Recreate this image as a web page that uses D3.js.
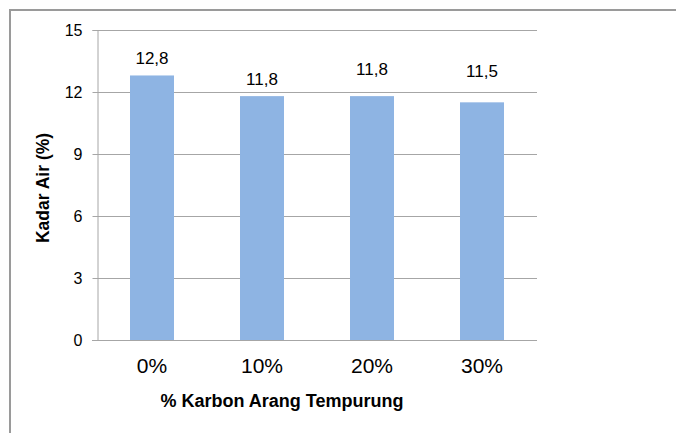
<!DOCTYPE html>
<html>
<head>
<meta charset="utf-8">
<script src="https://cdn.jsdelivr.net/npm/d3@7"></script>
<style>
  html, body { margin: 0; padding: 0; background: #fff; }
  svg { display: block; font-family: "Liberation Sans", Arial, sans-serif; }
</style>
</head>
<body>
<svg id="chart" width="676" height="433"></svg>
<script>
// Kadar air per persentase karbon arang tempurung
const categories = ["0%", "10%", "20%", "30%"];
const values = [12.8, 11.8, 11.8, 11.5];
const valueLabels = ["12,8", "11,8", "11,8", "11,5"];
const yTicks = [0, 3, 6, 9, 12, 15];

const svg = d3.select("#chart");
const margin = { left: 97, right: 139, top: 30, bottom: 93 };
const W = 676, H = 433;
const FONT = "'Liberation Sans', Arial, sans-serif";

// outer frame (top and left edges)
svg.append("path")
  .attr("d", `M10,${H} L10,10 L${W},10`)
  .attr("fill", "none")
  .attr("stroke", "#9a9a9a")
  .attr("stroke-width", 2);

const x = d3.scaleBand()
  .domain(categories)
  .range([margin.left, W - margin.right])
  .paddingInner(0.6)
  .paddingOuter(0.3);

const y = d3.scaleLinear()
  .domain([0, 15])
  .range([H - margin.bottom, margin.top]);

// horizontal gridlines
svg.append("g")
  .selectAll("line")
  .data(yTicks.filter(d => d > 0))
  .join("line")
  .attr("x1", margin.left).attr("x2", W - margin.right)
  .attr("y1", d => y(d) + 0.5).attr("y2", d => y(d) + 0.5)
  .attr("stroke", "#a6a6a6").attr("stroke-width", 1);

// y axis
const yAxis = svg.append("g")
  .attr("transform", `translate(${margin.left + 0.5},0)`)
  .call(d3.axisLeft(y).tickValues(yTicks).tickSize(5).tickPadding(10).tickFormat(d3.format("d")))
  .attr("font-family", FONT)
  .attr("font-size", 16);
yAxis.select(".domain").attr("stroke", "#a6a6a6");
yAxis.selectAll(".tick line").attr("stroke", "#a6a6a6");
yAxis.selectAll(".tick text").attr("fill", "#000");

// bars
svg.append("g")
  .selectAll("rect")
  .data(values)
  .join("rect")
  .attr("x", (d, i) => x(categories[i]))
  .attr("y", d => y(d))
  .attr("width", x.bandwidth())
  .attr("height", d => y(0) - y(d))
  .attr("fill", "#8eb4e3");

// x axis baseline
svg.append("line")
  .attr("x1", margin.left - 5).attr("x2", W - margin.right)
  .attr("y1", y(0) + 0.5).attr("y2", y(0) + 0.5)
  .attr("stroke", "#a6a6a6").attr("stroke-width", 1);

// category labels
svg.append("g")
  .selectAll("text")
  .data(categories)
  .join("text")
  .attr("x", d => x(d) + x.bandwidth() / 2)
  .attr("y", y(0) + 33)
  .attr("text-anchor", "middle")
  .attr("font-family", FONT)
  .attr("font-size", 21)
  .attr("fill", "#000")
  .text(d => d);

// value labels above bars
const labelLift = [11, 11, 21, 25];
svg.append("g")
  .selectAll("text")
  .data(values)
  .join("text")
  .attr("x", (d, i) => x(categories[i]) + x.bandwidth() / 2)
  .attr("y", (d, i) => y(d) - labelLift[i])
  .attr("text-anchor", "middle")
  .attr("font-family", FONT)
  .attr("font-size", 17)
  .attr("fill", "#000")
  .text((d, i) => valueLabels[i]);

// axis titles
svg.append("text")
  .attr("x", 282)
  .attr("y", 407)
  .attr("text-anchor", "middle")
  .attr("font-family", FONT)
  .attr("font-size", 18)
  .attr("font-weight", "bold")
  .attr("fill", "#000")
  .text("% Karbon Arang Tempurung");

svg.append("text")
  .attr("transform", "translate(49,188) rotate(-90)")
  .attr("text-anchor", "middle")
  .attr("font-family", FONT)
  .attr("font-size", 17.5)
  .attr("font-weight", "bold")
  .attr("fill", "#000")
  .text("Kadar Air (%)");
</script>
</body>
</html>
